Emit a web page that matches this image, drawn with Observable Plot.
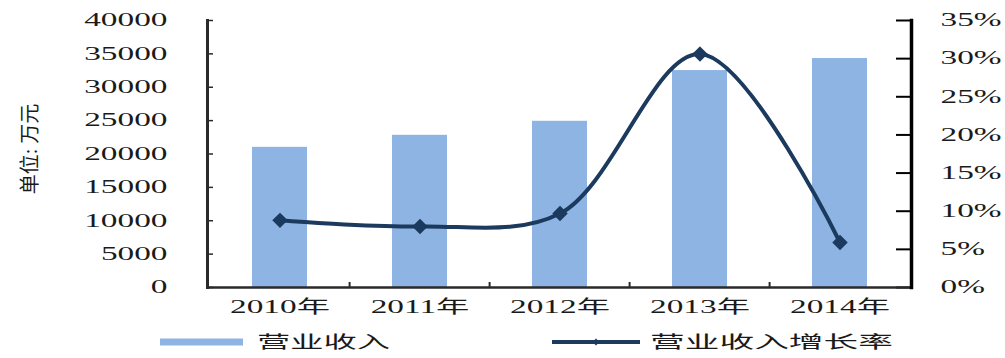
<!DOCTYPE html>
<html><head><meta charset="utf-8">
<script src="https://cdn.jsdelivr.net/npm/d3@7"></script>
<script src="https://cdn.jsdelivr.net/npm/@observablehq/plot@0.6"></script>
<style>
body{margin:0;background:#fff;}
#chart{width:1005px;height:358px;background:#fff;}
#chart svg{display:block;}
</style></head><body><div id="chart"></div>
<script>
const years = ["2010年", "2011年", "2012年", "2013年", "2014年"];
const revenue = [21000, 22800, 24900, 32500, 34300];
const growth = [8.8, 8.0, 9.7, 30.6, 5.9];
const leftTicks = [0, 5000, 10000, 15000, 20000, 25000, 30000, 35000, 40000];
const rightTicks = [0, 5, 10, 15, 20, 25, 30, 35];
const seriesNames = ["营业收入", "营业收入增长率"];
const yLabel = "单位: 万元";

const Y_MAX = 40000, P_MAX = 35;
const toY = p => p * Y_MAX / P_MAX;
const data = years.map((year, i) => ({year, revenue: revenue[i], growth: growth[i]}));

const W = 1005, H = 322, mL = 207, mR = 94, mT = 20, mB = 35;
const step = (W - mL - mR) / years.length;
const font = '"Liberation Serif","Noto Sans CJK SC",serif';
const barColor = "#8DB4E2", lineColor = "#1B3A5E", axisColor = "#2a2a2a";
const STRETCH = 1.85;

const plot = Plot.plot({
  width: W, height: H, marginLeft: mL, marginRight: mR, marginTop: mT, marginBottom: mB,
  style: {fontFamily: font, fontSize: "18px", color: "#1a1a1a", background: "#fff"},
  x: {domain: years, paddingInner: 0.61, paddingOuter: 0.305, label: null},
  y: {domain: [0, Y_MAX], label: null},
  marks: [
    Plot.barY(data, {x: "year", y: "revenue", fill: barColor}),
    Plot.axisX(years.slice(1), {tickSize: -5, text: null, dx: -step / 2, stroke: axisColor, strokeWidth: 2}),
    Plot.axisX(years, {tickSize: 0, tickPadding: 13, fontSize: 18}),
    Plot.axisY(leftTicks, {anchor: "left", tickSize: -6, text: null, stroke: axisColor, strokeWidth: 1.5}),
    Plot.axisY(leftTicks, {anchor: "left", tickSize: 0, tickPadding: 40, fontSize: 18, tickFormat: d => String(d)}),
    Plot.axisY(rightTicks.map(toY), {anchor: "right", tickSize: -16, text: null, stroke: "#000", strokeWidth: 2}),
    Plot.axisY(rightTicks.map(toY), {anchor: "right", tickSize: 0, tickPadding: 29, fontSize: 18,
      tickFormat: v => Math.round(v * P_MAX / Y_MAX) + "%"}),
    Plot.frame({anchor: "left", stroke: axisColor, strokeWidth: 3}),
    Plot.frame({anchor: "bottom", stroke: axisColor, strokeWidth: 2.5}),
    Plot.frame({anchor: "right", stroke: "#000", strokeWidth: 3.5}),
    Plot.line(data, {x: "year", y: d => toY(d.growth), curve: "catmull-rom", stroke: lineColor, strokeWidth: 4}),
    Plot.dot(data, {x: "year", y: d => toY(d.growth), symbol: "diamond2", r: 6, fill: lineColor, stroke: lineColor}),
    Plot.text([yLabel], {frameAnchor: "left", textAnchor: "middle", dx: -177, dy: -5, rotate: -90, fontSize: 20, fill: "#1a1a1a"})
  ]
});

const host = document.getElementById("chart");
host.append(plot);
plot.querySelectorAll("text").forEach(t => {
  if (t.closest('[aria-label="text"]')) return;
  const w = t.getComputedTextLength();
  t.setAttribute("textLength", (w * STRETCH).toFixed(1));
  t.setAttribute("lengthAdjust", "spacingAndGlyphs");
});

// legend below the chart
const leg = d3.select(host).append("svg").attr("width", W).attr("height", 36)
  .style("font-family", font).style("font-size", "17px");
const cy = 20;
leg.append("rect").attr("x", 160).attr("y", cy - 3.5).attr("width", 83).attr("height", 7).attr("fill", barColor);
leg.append("text").attr("x", 257).attr("y", cy).attr("dominant-baseline", "central").attr("fill", "#1a1a1a")
  .attr("textLength", 133).attr("lengthAdjust", "spacingAndGlyphs").text(seriesNames[0]);
leg.append("line").attr("x1", 552).attr("x2", 640).attr("y1", cy).attr("y2", cy)
  .attr("stroke", lineColor).attr("stroke-width", 4);
leg.append("path").attr("transform", `translate(596,${cy})`)
  .attr("d", d3.symbol(d3.symbolDiamond2, 30)()).attr("fill", lineColor);
leg.append("text").attr("x", 650).attr("y", cy).attr("dominant-baseline", "central").attr("fill", "#1a1a1a")
  .attr("textLength", 243).attr("lengthAdjust", "spacingAndGlyphs").text(seriesNames[1]);
</script>
</body></html>
